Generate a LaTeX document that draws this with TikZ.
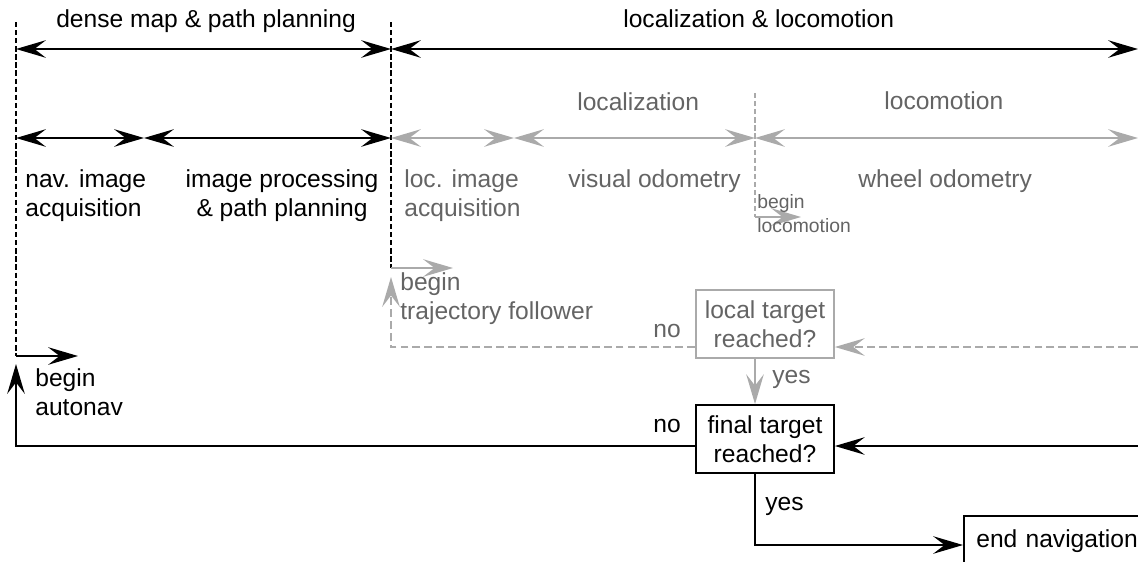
\documentclass[tikz,border=0pt]{standalone}
\usepackage{fontspec}
\setmainfont{Liberation Sans}
\usetikzlibrary{arrows.meta}
\definecolor{linegray}{RGB}{170,170,170}
\definecolor{textgray}{RGB}{100,100,100}
\tikzset{
  txt/.style={font=\fontsize{14}{16.5}\selectfont, inner sep=0pt},
  smalltxt/.style={font=\fontsize{11}{13.5}\selectfont, inner sep=0pt},
  bound/.style={line width=0.6pt, dash pattern=on 3pt off 1.6pt},
  flow/.style={line width=1pt},
  greyflow/.style={line width=1pt, linegray, dash pattern=on 4.5pt off 2.3pt},
  decision/.style={draw, line width=1pt, minimum width=2.76cm, minimum height=1.36cm,
    align=center, font=\fontsize{14}{16.5}\selectfont, inner sep=0pt}
}
\begin{document}
\begin{tikzpicture}[x=0.02cm, y=-0.02cm, >={Stealth[length=17pt, width=10pt, inset=6.5pt]}]
  \useasboundingbox (0,0) rectangle (1138,561);
  \clip (0,0) rectangle (1138,561);
  % phase boundaries
  \coordinate (navtop) at (16,22);
  \coordinate (navstart) at (16,356);
  \coordinate (trajtop) at (391,22);
  \coordinate (trajstart) at (391,268);
  \coordinate (locotop) at (755,93);
  \coordinate (locostart) at (755,217);
  \draw[bound] (navtop) -- (navstart);
  \draw[bound] (trajtop) -- (trajstart);
  \draw[bound, linegray] (locotop) -- (locostart);
  \draw[flow, ->] (navstart) -- +(62,0);
  \draw[flow, linegray, ->] (trajstart) -- +(62,0);
  \draw[flow, linegray, ->] (locostart) -- +(46,0);
  % spans
  \coordinate (endA) at (1138,49);
  \coordinate (endB) at (1138,138);
  \coordinate (splitA) at (144,138);
  \coordinate (splitB) at (514,138);
  \draw[flow, <->] (navtop |- endA) -- (trajtop |- endA);
  \draw[flow, <->] (trajtop |- endA) -- (endA);
  \draw[flow, <->] (navtop |- endB) -- (splitA);
  \draw[flow, <->] (splitA) -- (trajtop |- endB);
  \draw[flow, linegray, <->] (trajtop |- endB) -- (splitB);
  \draw[flow, linegray, <->] (splitB) -- (locotop |- endB);
  \draw[flow, linegray, <->] (locotop |- endB) -- (endB);
  % span labels
  \node[txt, anchor=base] (densemap) at (206,28) {dense map \& path planning};
  \node[txt, anchor=base west] (locloco) at (623,28) {localization \& locomotion};
  \node[txt, anchor=base west, textgray] (localization) at (577,110) {localization};
  \node[txt, anchor=base west, textgray] (locomotion) at (884,109) {locomotion};
  \node[txt, anchor=base west, align=left] (navimg) at (25,216) {nav. image\\acquisition};
  \node[txt, anchor=base, align=center] (imgproc) at (282,216) {image processing\\\& path planning};
  \node[txt, anchor=base west, align=left, textgray] (locimg) at (404,216) {loc. image\\acquisition};
  \node[txt, anchor=base west, textgray] (visodo) at (568,187) {visual odometry};
  \node[txt, anchor=base west, textgray] (wheelodo) at (858,187) {wheel odometry};
  \node[smalltxt, anchor=base west, align=left, textgray] (beginloco) at (757,232) {begin\\locomotion};
  \node[txt, anchor=base west, align=left, textgray] (begintraj) at (400,319) {begin\\trajectory follower};
  \node[txt, anchor=base west, align=left] (beginauto) at (35,415) {begin\\autonav};
  % decisions
  \node[decision, linegray, text=textgray] (local) at (765,324) {local target\\reached?};
  \node[decision] (final) at (765,439) {final target\\reached?};
  \node[draw, line width=1pt, anchor=north west, minimum width=4cm, minimum height=1cm,
    txt, inner sep=0pt, text width=3.9cm, align=left] (endnav) at (963,515)
    {\hspace{0.2cm}end navigation};
  % loops
  \coordinate (localin) at (1138,347);
  \coordinate (finalin) at (1138,446);
  \coordinate (trajback) at (391,277);
  \coordinate (autoback) at (16,364);
  \coordinate (yesturn) at (755,545);
  \draw[greyflow, ->] (localin) -- (local.east |- localin);
  \draw[greyflow, ->] (local.west |- localin) -| (trajback);
  \draw[flow, linegray, ->] (locostart |- local.south) -- (locostart |- final.north);
  \draw[flow, ->] (finalin) -- (final.east |- finalin);
  \draw[flow, ->] (final.west |- finalin) -| (autoback);
  \draw[flow, ->] (locostart |- final.south) -- (yesturn) -- (endnav.west |- yesturn);
  % branch labels
  \node[txt, anchor=base west, textgray] (nolocal) at (653,337) {no};
  \node[txt, anchor=base west, textgray] (yeslocal) at (772,383) {yes};
  \node[txt, anchor=base west] (nofinal) at (653,432) {no};
  \node[txt, anchor=base west] (yesfinal) at (765,510) {yes};
\end{tikzpicture}
\end{document}
